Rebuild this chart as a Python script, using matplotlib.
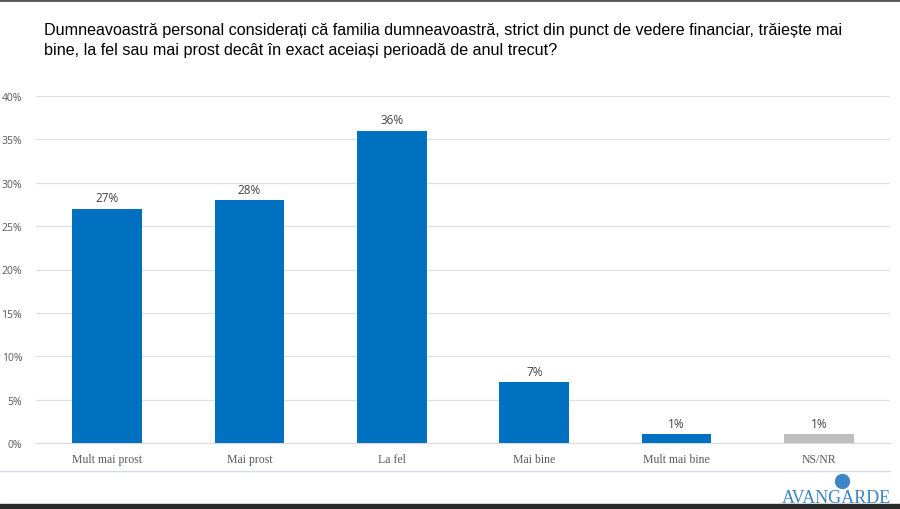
import matplotlib.pyplot as plt
from matplotlib.ticker import PercentFormatter

categories = ['Mult mai prost', 'Mai prost', 'La fel', 'Mai bine', 'Mult mai bine', 'NS/NR']
values = [27, 28, 36, 7, 1, 1]
colors = ['#0070c0', '#0070c0', '#0070c0', '#0070c0', '#0070c0', '#bfbfbf']
title = ('Dumneavoastră personal considerați că familia dumneavoastră, strict din punct de vedere financiar, trăiește mai\n'
         'bine, la fel sau mai prost decât în exact aceiași perioadă de anul trecut?')

fig = plt.figure(figsize=(9, 5.1), dpi=100)
ax = fig.add_axes([0.04, 1 - 444 / 510, 0.949, 347 / 510])

x = range(len(categories))
bars = ax.bar(x, values, width=0.49, color=colors, zorder=3)
for b, v in zip(bars, values):
    ax.text(b.get_x() + b.get_width() / 2, v + 0.5, f'{v}%', ha='center', va='bottom',
            fontsize=8.5, color='#404040', family='Open Sans')

ax.set_xlim(-0.5, len(categories) - 0.5)
ax.set_ylim(0, 40)
ax.set_yticks(range(0, 41, 5))
ax.yaxis.set_major_formatter(PercentFormatter(decimals=0))
ax.grid(axis='y', color='#e0e0e0', linewidth=0.9, zorder=0)
for s in ['top', 'right', 'left']:
    ax.spines[s].set_visible(False)
ax.spines['bottom'].set_color('#d9d9d9')
ax.tick_params(axis='y', length=0, labelsize=7.5, labelcolor='#595959', pad=10)
ax.tick_params(axis='x', length=0, pad=7)
ax.set_xticks(list(x))
ax.set_xticklabels(categories, fontsize=8.5, color='#595959', family='Liberation Serif')
for lbl in ax.get_yticklabels():
    lbl.set_family('Open Sans')

fig.text(44 / 900, 1 - 23 / 510, title, ha='left', va='top', fontsize=11.6,
         color='black', family='Liberation Sans', linespacing=1.45)

# frame lines of the slide
fig.add_artist(plt.Line2D([0, 1], [1 - 1 / 510, 1 - 1 / 510], color='#555555', linewidth=2))
fig.add_artist(plt.Line2D([0, 890 / 900], [1 - 472 / 510, 1 - 472 / 510], color='#d6dce4', linewidth=1))
fig.patches.append(plt.Rectangle((0, 0), 1, 5 / 510, transform=fig.transFigure,
                                 color='#2b2b2b', figure=fig))

# logo
fig.add_artist(plt.Line2D([842 / 900], [1 - 482 / 510], marker='o', markersize=10,
                          markerfacecolor='#3d85c6', markeredgecolor='#3d85c6'))
fig.text(891 / 900, 1 - 503 / 510, 'AVANGARDE', ha='right', va='baseline', fontsize=13,
         color='#3d85c6', family='Liberation Serif')

plt.savefig('out.png')
